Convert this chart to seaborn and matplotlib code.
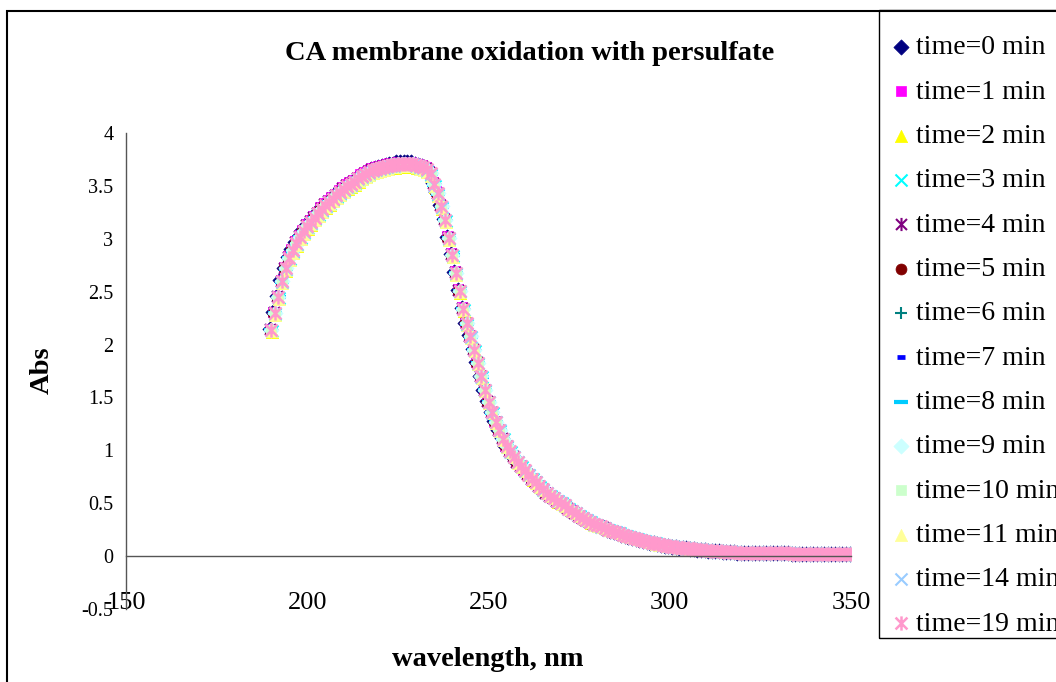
import numpy as np
import pandas as pd
import matplotlib
matplotlib.use("Agg")
import matplotlib.pyplot as plt
from matplotlib.path import Path
from matplotlib.patches import Rectangle
import seaborn as sns

# ---------------- data ----------------
wavelength = np.arange(190, 351, 1)

base_abs = [
    2.14, 2.30, 2.45, 2.60, 2.72, 2.82, 2.89, 2.96, 3.02, 3.07,   # 190-199
    3.12, 3.16, 3.20, 3.24, 3.28, 3.32, 3.35, 3.38, 3.41, 3.44,   # 200-209
    3.47, 3.50, 3.52, 3.54, 3.57, 3.59, 3.61, 3.63, 3.65, 3.66,   # 210-219
    3.67, 3.68, 3.69, 3.70, 3.70, 3.71, 3.71, 3.71, 3.71, 3.71,   # 220-229
    3.70, 3.69, 3.68, 3.66, 3.62, 3.52, 3.43, 3.31, 3.18, 3.01,   # 230-239
    2.85, 2.68, 2.51, 2.34, 2.20, 2.08, 1.95, 1.83, 1.70, 1.57,   # 240-249
    1.46, 1.36, 1.27, 1.19, 1.11, 1.04, 0.99, 0.94, 0.89, 0.85,   # 250-259
    0.81, 0.77, 0.73, 0.70, 0.66, 0.63, 0.60, 0.57, 0.55, 0.52,   # 260-269
    0.50, 0.48, 0.45, 0.43, 0.41, 0.38, 0.36, 0.34, 0.32, 0.30,   # 270-279
    0.29, 0.28, 0.27, 0.25, 0.24, 0.23, 0.22, 0.20, 0.19, 0.18,   # 280-289
    0.17, 0.16, 0.15, 0.14, 0.13, 0.125, 0.12, 0.11, 0.105, 0.10, # 290-299
    0.095, 0.09, 0.085, 0.08, 0.076, 0.072, 0.068, 0.064, 0.060, 0.057,  # 300-309
    0.054, 0.051, 0.048, 0.046, 0.044, 0.042, 0.040, 0.038, 0.036, 0.034,  # 310-319
    0.033, 0.032, 0.031, 0.030, 0.029, 0.028, 0.028, 0.027, 0.027, 0.026,  # 320-329
    0.026, 0.025, 0.025, 0.025, 0.024, 0.024, 0.024, 0.023, 0.023, 0.023,  # 330-339
    0.022, 0.022, 0.022, 0.022, 0.021, 0.021, 0.021, 0.021, 0.020, 0.020,  # 340-349
    0.020,                                                                # 350
]

series_labels = ["time=0 min", "time=1 min", "time=2 min", "time=3 min",
                 "time=4 min", "time=5 min", "time=6 min", "time=7 min",
                 "time=8 min", "time=9 min", "time=10 min", "time=11 min",
                 "time=14 min", "time=19 min"]
# small per-series differences
nm_shift = [-0.4, -0.35, 0.15, 0.15, -0.3, -0.35, -0.15, -0.2, 0.1, 0.05, 0.0, 0.15, 0.05, 0.0]
abs_scale = [1.003, 1.005, 0.992, 0.995, 1.002, 1.000, 1.000, 1.000,
             0.998, 1.000, 0.997, 0.993, 0.998, 1.000]

# ---------------- styles ----------------
star = Path([(-1, -1), (1, 1), (-1, 1), (1, -1), (0, -1.2), (0, 1.2)],
            [Path.MOVETO, Path.LINETO, Path.MOVETO, Path.LINETO, Path.MOVETO, Path.LINETO])
styles = [
    ("D", "#000080", 60, 0.5, True),
    ("s", "#FF00FF", 52, 0.5, True),
    ("^", "#FFFF00", 78, 0.5, True),
    ("x", "#00FFFF", 75, 1.5, False),
    (star, "#800080", 90, 1.5, True),
    ("o", "#800000", 62, 0.5, True),
    ("+", "#008080", 85, 1.5, False),
    ("_", "#0000FF", 26, 3.4, False),
    ("_", "#00CCFF", 90, 3.0, False),
    ("D", "#CCFFFF", 60, 0.5, True),
    ("s", "#CCFFCC", 52, 0.5, True),
    ("^", "#FFFF99", 78, 0.5, True),
    ("x", "#99CCFF", 75, 1.5, False),
    (star, "#FF99CC", 105, 1.8, True),
]

sns.set_theme(style="white")
plt.rcParams["font.family"] = ["Liberation Serif", "DejaVu Serif"]
plt.rcParams["text.color"] = "black"

W, H = 1056, 682
fig = plt.figure(figsize=(W / 100, H / 100), dpi=100)
ax = fig.add_axes([126 / W, 1 - 609 / H, (851 - 126) / W, (609 - 133) / H])

base = np.array(base_abs)
for lab, sh, sc, (m, c, s, lw, filled) in zip(series_labels, nm_shift, abs_scale, styles):
    kw = dict(marker=m, color=c, s=s, linewidth=lw, ax=ax, label=lab)
    if filled:
        kw["edgecolor"] = c
    sns.scatterplot(x=wavelength + sh, y=base * sc, **kw)

ax.set_xlim(150, 350)
ax.set_ylim(-0.5, 4)
xticks = [150, 200, 250, 300, 350]
yticks = [-0.5, 0, 0.5, 1, 1.5, 2, 2.5, 3, 3.5, 4]
ax.set_xticks(xticks)
ax.set_xticklabels([str(v) for v in xticks])
ax.set_yticks(yticks)
ax.set_yticklabels(["-0.5", "0", "0.5", "1", "1.5", "2", "2.5", "3", "3.5", "4"])
for sp in ["top", "right"]:
    ax.spines[sp].set_visible(False)
ax.spines["bottom"].set_position(("data", 0))
for sp in ["bottom", "left"]:
    ax.spines[sp].set_color("#555555")
    ax.spines[sp].set_linewidth(1.0)
ax.tick_params(axis="x", direction="out", length=6, width=1, color="#444444",
               labelsize=19, pad=20, labelcolor="black")
ax.tick_params(axis="y", direction="out", length=5, width=1, color="#444444",
               labelsize=14.5, pad=4, labelcolor="black")
ax.set_xlabel("")
ax.set_ylabel("")
ax.grid(False)

fig.text(530 / W, 1 - 53 / H, "CA membrane oxidation with persulfate",
         ha="center", va="center", fontsize=20.5, fontweight="bold", color="black")
fig.text(488 / W, 1 - 659 / H, "wavelength, nm",
         ha="center", va="center", fontsize=20.5, fontweight="bold", color="black")
fig.text(42 / W, 1 - 370 / H, "Abs", ha="center", va="center",
         rotation=90, fontsize=20.5, fontweight="bold", color="black")

handles, labels = ax.get_legend_handles_labels()
if ax.get_legend() is not None:
    ax.get_legend().remove()
leg = fig.legend(handles, labels, loc="upper left",
                 bbox_to_anchor=(879 / W, 1 - 21 / H), borderaxespad=0,
                 frameon=False,
                 prop={"size": 20, "family": ["Liberation Serif"]},
                 handlelength=0.58, handletextpad=0.25, labelspacing=0.68,
                 borderpad=0.5, scatterpoints=1)
for t in leg.get_texts():
    t.set_color("black")

# legend frame (extends past the right edge as in the reference)
fig.add_artist(Rectangle((879 / W, 1 - 638 / H), 0.3, (638 - 10) / H,
                         transform=fig.transFigure, fill=False,
                         edgecolor="black", linewidth=1.0, clip_on=False))

# chart-area border
fig.add_artist(Rectangle((7 / W, -0.1), 1.2, 1 - 11 / H + 0.1,
                         transform=fig.transFigure, fill=False,
                         edgecolor="black", linewidth=1.5, clip_on=False))

fig.savefig("out.png", dpi=100, facecolor="white")
